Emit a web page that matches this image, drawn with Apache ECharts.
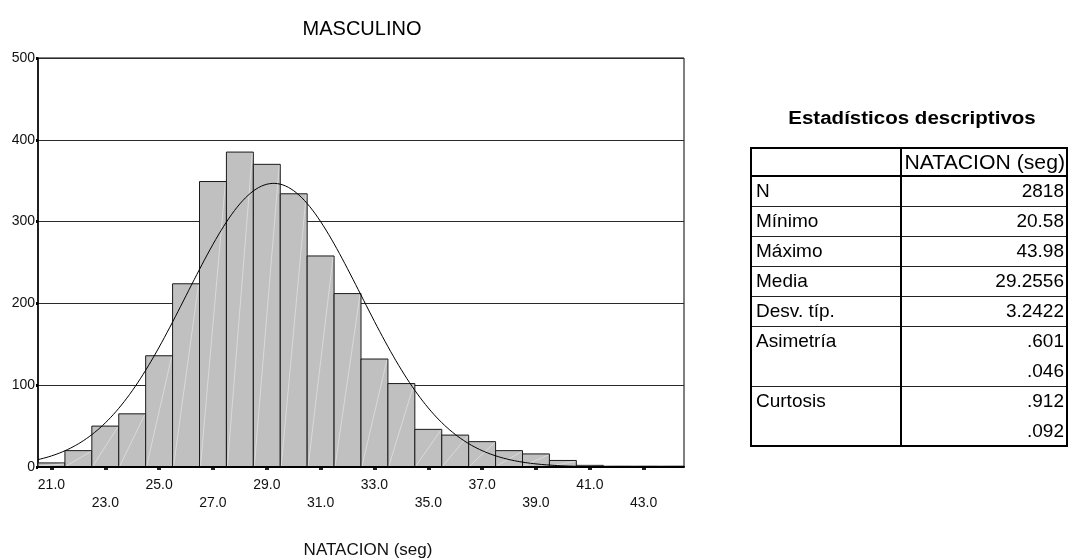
<!DOCTYPE html>
<html>
<head>
<meta charset="utf-8">
<title>MASCULINO – NATACION (seg)</title>
<script src="https://cdn.jsdelivr.net/npm/echarts@6/dist/echarts.min.js"></script>
<style>
  html, body { margin: 0; padding: 0; background: #fff; }
  #chart { width: 1069px; height: 558px; }
</style>
</head>
<body>
<div id="chart"></div>
<script>
// Histogram bins (width 1 s), given by their midpoints, and the count in each
const binMids   = [21, 22, 23, 24, 25, 26, 27, 28, 29, 30, 31, 32,
                   33, 34, 35, 36, 37, 38, 39, 40, 41, 42, 43, 44];
const binCounts = [5, 20, 50, 65, 136, 224, 349, 385, 370, 334, 258, 212,
                   132, 102, 46, 39, 31, 20, 16, 8, 2, 1, 1, 1];
const binWidth = 1;

// Labelled midpoints on the x axis (alternating between two rows)
const xTickValues = [21, 23, 25, 27, 29, 31, 33, 35, 37, 39, 41, 43];

// Descriptive statistics shown in the table
const sampleN    = 2818;
const sampleMin  = 20.58;
const sampleMax  = 43.98;
const sampleMean = 29.2556;
const sampleSD   = 3.2422;
const skewValue  = '.601';
const skewSE     = '.046';
const kurtValue  = '.912';
const kurtSE     = '.092';

const tableRows = [
  ['N',          String(sampleN)],
  ['Mínimo',     sampleMin.toFixed(2)],
  ['Máximo',     sampleMax.toFixed(2)],
  ['Media',      sampleMean.toFixed(4)],
  ['Desv. típ.', sampleSD.toFixed(4)],
  ['Asimetría',  skewValue],
  ['',           skewSE],
  ['Curtosis',   kurtValue],
  ['',           kurtSE]
];

// Fitted normal curve, scaled to counts per bin
const curve = [];
for (let x = 20.5; x <= 44.5001; x += 0.1) {
  const z = (x - sampleMean) / sampleSD;
  curve.push([x, sampleN * binWidth * Math.exp(-0.5 * z * z) / (sampleSD * Math.sqrt(2 * Math.PI))]);
}

const FONT = '"Liberation Sans", Arial, sans-serif';

// ---- title and statistics table drawn as graphic elements ----
const T = { left: 751, mid: 901, right: 1067, top: 148, head: 176, row: 30 };
const graphics = [];
graphics.push({
  type: 'text', x: 362, y: 29, silent: true,
  style: { text: 'MASCULINO', font: '20px ' + FONT, fill: '#000',
           textAlign: 'center', textVerticalAlign: 'middle' }
});
graphics.push({
  type: 'text', x: 912, y: 119, scaleX: 1.14, silent: true,
  style: { text: 'Estadísticos descriptivos', font: 'bold 18px ' + FONT, fill: '#000',
           textAlign: 'center', textVerticalAlign: 'middle' }
});
const bottom = T.head + tableRows.length * T.row;
// header text
graphics.push({
  type: 'text', x: T.right - 2, y: (T.top + T.head) / 2 + 1, scaleX: 1.06, silent: true,
  style: { text: 'NATACION (seg)', font: '20px ' + FONT, fill: '#000',
           textAlign: 'right', textVerticalAlign: 'middle' }
});
tableRows.forEach((r, i) => {
  const yc = T.head + i * T.row + T.row / 2 + 1;
  if (r[0]) {
    graphics.push({
      type: 'text', x: T.left + 5, y: yc, silent: true,
      style: { text: r[0], font: '19px ' + FONT, fill: '#000',
               textAlign: 'left', textVerticalAlign: 'middle' }
    });
  }
  graphics.push({
    type: 'text', x: T.right - 3, y: yc, silent: true,
    style: { text: r[1], font: '19px ' + FONT, fill: '#000',
             textAlign: 'right', textVerticalAlign: 'middle' }
  });
  // row separator (skipped inside two-line cells)
  const next = tableRows[i + 1];
  if (next && next[0] !== '') {
    const y = T.head + (i + 1) * T.row + 0.5;
    graphics.push({ type: 'line', silent: true,
      shape: { x1: T.left, y1: y, x2: T.right, y2: y },
      style: { stroke: '#222', lineWidth: 1 } });
  }
});
// header separator and column divider
graphics.push({ type: 'line', silent: true,
  shape: { x1: T.left, y1: T.head, x2: T.right, y2: T.head },
  style: { stroke: '#000', lineWidth: 2 } });
graphics.push({ type: 'line', silent: true,
  shape: { x1: T.mid, y1: T.top, x2: T.mid, y2: bottom },
  style: { stroke: '#000', lineWidth: 2 } });
// outer frame
graphics.push({ type: 'rect', silent: true,
  shape: { x: T.left, y: T.top, width: T.right - T.left, height: bottom - T.top },
  style: { fill: 'none', stroke: '#000', lineWidth: 2 } });

const chart = echarts.init(document.getElementById('chart'), null, { renderer: 'canvas' });
chart.setOption({
  animation: false,
  backgroundColor: '#fff',
  grid: { left: 38, top: 58, width: 646, height: 409, show: true,
          outerBoundsMode: 'none', containLabel: false,
          borderColor: '#000', borderWidth: 1, backgroundColor: 'transparent' },
  xAxis: [{
    type: 'value', min: 20.5, max: 44.5, z: 5,
    axisLine: { show: true, onZero: false, lineStyle: { color: '#000', width: 2 } },
    axisTick: { show: false },
    splitLine: { show: false },
    axisLabel: {
      customValues: xTickValues,
      margin: 9, fontSize: 14, fontFamily: FONT, color: '#111', lineHeight: 18,
      formatter: v => (xTickValues.indexOf(v) % 2 === 0 ? '' : '\n') + v.toFixed(1)
    },
    name: 'NATACION (seg)', nameLocation: 'middle', nameGap: 75,
    nameTextStyle: { fontSize: 17, fontFamily: FONT, color: '#111', padding: [0, 0, 0, 14] }
  }, {
    type: 'value', min: 20.5, max: 44.5, position: 'bottom', offset: 3,
    axisLine: { show: false },
    axisTick: { show: true, customValues: xTickValues, length: 3,
                lineStyle: { color: '#222', width: 4 } },
    axisLabel: { show: false },
    splitLine: { show: false }
  }],
  yAxis: {
    type: 'value', min: 0, max: 500, interval: 100,
    axisLine: { show: true, onZero: false, lineStyle: { color: '#000', width: 1.5 } },
    axisTick: { show: true, length: 2, lineStyle: { color: '#000', width: 3 } },
    axisLabel: { margin: 3, fontSize: 14, fontFamily: FONT, color: '#111' },
    splitLine: { show: true, lineStyle: { color: '#2a2a2a', width: 1 } }
  },
  series: [{
    type: 'custom',
    xAxisIndex: 0,
    data: binMids.map((m, i) => [m, binCounts[i]]),
    renderItem: (params, api) => {
      const mid = api.value(0), cnt = api.value(1);
      const p0 = api.coord([mid - binWidth / 2, cnt]);
      const p1 = api.coord([mid + binWidth / 2, 0]);
      return {
        type: 'group',
        children: [{
          type: 'rect',
          shape: { x: p0[0], y: p0[1], width: p1[0] - p0[0], height: p1[1] - p0[1] },
          style: { fill: '#c0c0c0', stroke: '#1a1a1a', lineWidth: 1 }
        }, {
          type: 'line',
          shape: { x1: p0[0] + 1, y1: p1[1] - 1, x2: p1[0] - 1, y2: p0[1] + 1 },
          style: { stroke: 'rgba(255,255,255,0.4)', lineWidth: 1 }
        }]
      };
    }
  }, {
    type: 'line',
    xAxisIndex: 0,
    data: curve,
    showSymbol: false,
    smooth: false,
    z: 4,
    lineStyle: { color: '#000', width: 1 }
  }],
  graphic: graphics
});
</script>
</body>
</html>
